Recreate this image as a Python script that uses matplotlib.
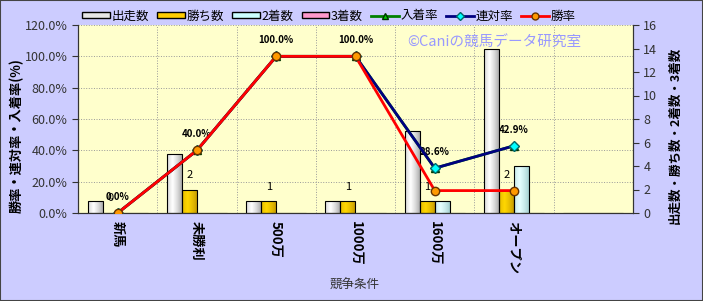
import matplotlib
matplotlib.use("Agg")
import matplotlib.pyplot as plt
from matplotlib.patches import Rectangle
from matplotlib.lines import Line2D
from matplotlib.colors import to_rgb
import numpy as np

plt.rcParams['font.family'] = ['Noto Sans CJK JP', 'DejaVu Sans']

categories = ['新馬', '未勝利', '500万', '1000万', '1600万', 'オープン', '']
starts = [1, 5, 1, 1, 7, 14, 0]
wins = [0, 2, 1, 1, 1, 2, 0]
seconds = [0, 0, 0, 0, 1, 4, 0]
thirds = [0, 0, 0, 0, 0, 0, 0]
win_rate = [0.0, 40.0, 100.0, 100.0, 14.3, 14.3]
rentai_rate = [0.0, 40.0, 100.0, 100.0, 28.6, 42.9]
nyuchaku_rate = [0.0, 40.0, 100.0, 100.0, 28.6, 42.9]
rate_labels = ['0.0%', '40.0%', '100.0%', '100.0%', '28.6%', '42.9%']
win_labels = ['0', '2', '1', '1', '1', '2']

BG = '#CCCCFF'
PLOT_BG = '#FFFFCC'


def shade_bars(ax, bars, edge_col, mid_col):
    # cylinder-like horizontal gradient clipped to each bar
    e = np.array(to_rgb(edge_col))
    m = np.array(to_rgb(mid_col))
    t = np.linspace(0, 1, 64)
    k = np.clip(1 - np.abs(t - 0.35) / 0.65, 0, 1) ** 0.6
    grad = e[None, :] + (m - e)[None, :] * k[:, None]
    for r in bars:
        if r.get_height() <= 0:
            continue
        x0, y0 = r.get_x(), r.get_y()
        im = ax.imshow(grad[None, :, :], extent=[x0, x0 + r.get_width(), y0, y0 + r.get_height()],
                       aspect='auto', zorder=2.5, interpolation='bilinear')
        im.set_clip_path(r)
        r.set_facecolor('none')
        r.set_zorder(2.6)


def main():
    fig = plt.figure(figsize=(7.03, 3.01), dpi=100, facecolor=BG)
    ax = fig.add_axes([78 / 703, 1 - 213 / 301, 555 / 703, 188 / 301])
    ax.set_facecolor(PLOT_BG)
    ax_r = ax.twinx()

    x = np.arange(len(categories))
    w = 0.19
    n = 6

    # grid (behind bars)
    for v in range(20, 121, 20):
        ax.axhline(v * 16 / 120, color='#999999', lw=0.7, ls=':', zorder=0)
    for b in np.arange(0.5, 6, 1):
        ax.axvline(b, color='#999999', lw=0.7, ls=':', zorder=0)

    sb = ax.bar(x - 1.5 * w, starts, w, color='#E6E6E6', edgecolor='black', lw=0.8, zorder=2)
    wb = ax.bar(x - 0.5 * w, wins, w, color='#FFCC00', edgecolor='black', lw=0.8, zorder=2)
    cb = ax.bar(x + 0.5 * w, seconds, w, color='#CCFFFF', edgecolor='black', lw=0.8, zorder=2)
    tb = ax.bar(x + 1.5 * w, thirds, w, color='#FF99CC', edgecolor='black', lw=0.8, zorder=2)
    shade_bars(ax, sb, '#8C8C8C', '#FFFFFF')
    shade_bars(ax, wb, '#B38600', '#FFD700')
    shade_bars(ax, cb, '#8CBFBF', '#E6FFFF')
    shade_bars(ax, tb, '#B36688', '#FFCCE6')
    for i in range(n):
        ax.annotate(win_labels[i], (x[i] - 0.5 * w, wins[i]), xytext=(0, 7),
                    textcoords='offset points', ha='center', va='bottom', fontsize=8)

    ax.set_ylim(0, 16)
    ax.set_xlim(-0.5, 6.5)
    ax.yaxis.tick_right()
    ax.yaxis.set_label_position('right')
    ax.set_yticks(range(0, 17, 2))
    ax.set_xticks(x[:n])
    ax.set_xticklabels(categories[:n], rotation=270, fontsize=9.5, fontweight='bold')
    ax.tick_params(axis='x', length=0, pad=6)
    ax.tick_params(axis='y', labelsize=9, colors='#333333', length=4)
    ax.set_ylabel('出走数・勝ち数・2着数・3着数', rotation=90, fontsize=9,
                  fontweight='bold', va='center')
    ax.yaxis.set_label_coords(1.076, 0.415)

    ax_r.yaxis.tick_left()
    ax_r.yaxis.set_label_position('left')
    ax_r.set_ylim(0, 120)
    ax_r.set_yticks(range(0, 121, 20))
    ax_r.set_yticklabels([f'{v:.1f}%' for v in range(0, 121, 20)])
    ax_r.tick_params(axis='y', labelsize=9, colors='#333333', length=4)
    ax_r.set_ylabel('勝率・連対率・入着率(%)', fontsize=9.5, fontweight='bold', va='center')
    ax_r.yaxis.set_label_coords(-0.11, 0.41)

    xr = x[:n]
    ax_r.plot(xr, nyuchaku_rate, color='#008000', lw=2, marker='^', ms=6,
              mfc='#00CC00', mec='#003300', zorder=3)
    ax_r.plot(xr, rentai_rate, color='#000080', lw=2, marker='D', ms=5,
              mfc='#00FFFF', mec='#006666', zorder=4)
    ax_r.plot(xr, win_rate, color='#FF0000', lw=2, marker='o', ms=6,
              mfc='#FF9900', mec='#663300', zorder=5)
    for i in range(n):
        ax_r.annotate(rate_labels[i], (xr[i], rentai_rate[i]), xytext=(0, 8),
                      textcoords='offset points', ha='center', va='bottom',
                      fontsize=7, fontweight='bold')

    for a in (ax, ax_r):
        a.spines['top'].set_visible(False)
        for s in ('left', 'right', 'bottom'):
            a.spines[s].set_color('#333333')

    ax.text(0.751, 0.904, '©Caniの競馬データ研究室', transform=ax.transAxes,
            ha='center', va='center', fontsize=10.5, color='#9999FF')

    fig.text(355 / 703, 1 - 285 / 301, '競争条件', ha='center', va='center',
             fontsize=9, color='#333333')

    handles = [
        Rectangle((0, 0), 1, 1, fc='#E6E6E6', ec='black'),
        Rectangle((0, 0), 1, 1, fc='#FFCC00', ec='black'),
        Rectangle((0, 0), 1, 1, fc='#CCFFFF', ec='black'),
        Rectangle((0, 0), 1, 1, fc='#FF99CC', ec='black'),
        Line2D([], [], color='#008000', lw=2, marker='^', ms=5, mfc='#00CC00', mec='#003300'),
        Line2D([], [], color='#000080', lw=2, marker='D', ms=4, mfc='#00FFFF', mec='#006666'),
        Line2D([], [], color='#FF0000', lw=2, marker='o', ms=5, mfc='#FF9900', mec='#663300'),
    ]
    names = ['出走数', '勝ち数', '2着数', '3着数', '入着率', '連対率', '勝率']
    fig.legend(handles, names, loc='center left', bbox_to_anchor=(82 / 703, 1 - 16 / 301),
               ncol=7, frameon=False, fontsize=9, handlelength=2.2, handleheight=0.4,
               handletextpad=0.15, columnspacing=0.65, borderpad=0, borderaxespad=0)

    fig.patches.append(Rectangle((0, 0), 1, 1, transform=fig.transFigure, fill=False,
                                 ec='#444444', lw=1.5))
    fig.savefig('out.png', dpi=100, facecolor=BG)


if __name__ == "__main__":
    main()
